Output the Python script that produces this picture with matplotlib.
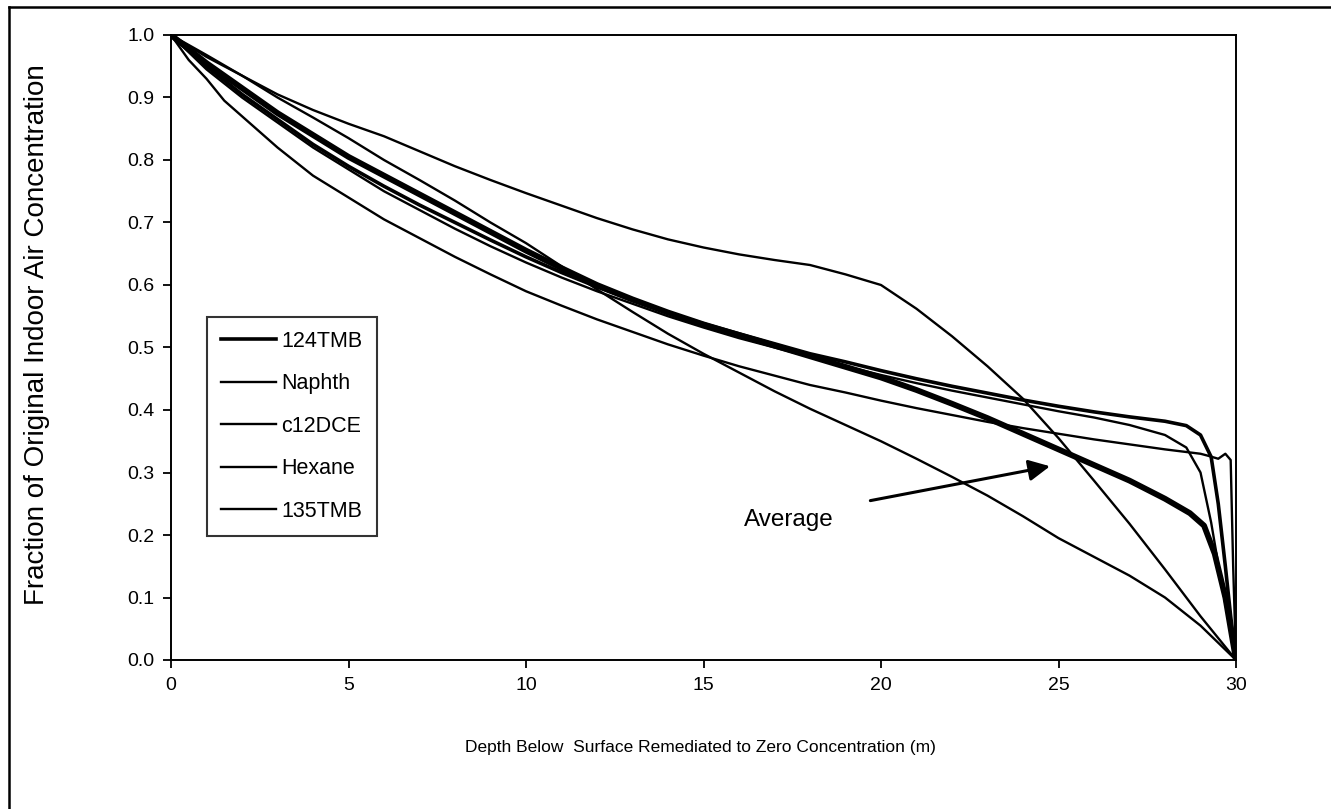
import matplotlib
matplotlib.use("Agg")
import matplotlib.pyplot as plt
from matplotlib.lines import Line2D
from matplotlib.transforms import Bbox

plt.rcParams['font.family'] = ['Liberation Sans', 'DejaVu Sans']

# ---- data ----
avg_x = [0, 1, 2, 3, 4, 5, 6, 7, 8, 9, 10, 11, 12, 13, 14, 15, 16, 17, 18, 19, 20,
         21, 22, 23, 24, 25, 26, 27, 28, 28.7, 29.1, 29.4, 29.7, 30]
avg_y = [1.0, 0.955, 0.915, 0.875, 0.84, 0.805, 0.775, 0.745, 0.715, 0.685, 0.655,
         0.627, 0.600, 0.577, 0.556, 0.537, 0.520, 0.503, 0.486, 0.469, 0.452,
         0.432, 0.410, 0.387, 0.362, 0.337, 0.312, 0.287, 0.258, 0.235, 0.215,
         0.17, 0.10, 0.0]

tmb124_x = [0, 1, 2, 3, 4, 5, 6, 7, 8, 9, 10, 11, 12, 13, 14, 15, 16, 17, 18, 19, 20,
            21, 22, 23, 24, 25, 26, 27, 28, 28.6, 29, 29.3, 29.5, 29.7, 29.85, 30]
tmb124_y = [1.0, 0.95, 0.905, 0.865, 0.825, 0.79, 0.758, 0.728, 0.70, 0.672, 0.645,
            0.62, 0.597, 0.575, 0.556, 0.538, 0.522, 0.506, 0.49, 0.477, 0.463,
            0.45, 0.438, 0.427, 0.416, 0.406, 0.397, 0.389, 0.382, 0.375, 0.36,
            0.325, 0.25, 0.15, 0.07, 0.0]

naphth_x = [0, 1, 2, 3, 4, 5, 6, 7, 8, 9, 10, 11, 12, 13, 14, 15, 16, 17, 18, 19, 20,
            21, 22, 23, 24, 25, 26, 27, 28, 29, 30]
naphth_y = [1.0, 0.965, 0.935, 0.905, 0.88, 0.858, 0.838, 0.814, 0.79, 0.768, 0.747,
            0.727, 0.707, 0.689, 0.673, 0.66, 0.649, 0.64, 0.632, 0.617, 0.600,
            0.562, 0.518, 0.47, 0.418, 0.355, 0.287, 0.218, 0.145, 0.07, 0.0]

dce_x = [0, 1, 2, 3, 4, 5, 6, 7, 8, 9, 10, 11, 12, 13, 14, 15, 16, 17, 18, 19, 20,
         21, 22, 23, 24, 25, 26, 27, 28, 29, 30]
dce_y = [1.0, 0.968, 0.935, 0.90, 0.868, 0.835, 0.80, 0.768, 0.735, 0.70, 0.667,
         0.63, 0.593, 0.557, 0.522, 0.49, 0.46, 0.43, 0.402, 0.376, 0.35,
         0.322, 0.293, 0.263, 0.23, 0.195, 0.165, 0.135, 0.10, 0.055, 0.0]

hexane_x = [0, 0.5, 1, 1.5, 2, 3, 4, 5, 6, 7, 8, 9, 10, 11, 12, 13, 14, 15, 16, 17, 18,
            19, 20, 21, 22, 23, 24, 25, 26, 27, 28, 29, 29.2, 29.5, 29.7, 29.85,
            29.92, 30]
hexane_y = [1.0, 0.96, 0.93, 0.895, 0.87, 0.82, 0.775, 0.74, 0.705, 0.675, 0.645,
            0.617, 0.59, 0.567, 0.545, 0.525, 0.505, 0.487, 0.47, 0.455, 0.44,
            0.428, 0.415, 0.403, 0.392, 0.381, 0.371, 0.362, 0.353, 0.345, 0.337,
            0.33, 0.327, 0.322, 0.33, 0.32, 0.15, 0.0]

tmb135_x = [0, 1, 2, 3, 4, 5, 6, 7, 8, 9, 10, 11, 12, 13, 14, 15, 16, 17, 18, 19, 20,
            21, 22, 23, 24, 25, 26, 27, 28, 28.6, 29.0, 29.3, 29.6, 30]
tmb135_y = [1.0, 0.945, 0.90, 0.86, 0.82, 0.785, 0.75, 0.72, 0.69, 0.662, 0.636,
            0.612, 0.59, 0.57, 0.55, 0.532, 0.515, 0.50, 0.485, 0.47, 0.456,
            0.443, 0.431, 0.42, 0.409, 0.398, 0.388, 0.376, 0.36, 0.34, 0.30,
            0.22, 0.12, 0.0]

series_names = ['124TMB', 'Naphth', 'c12DCE', 'Hexane', '135TMB']
x_ticks = [0, 5, 10, 15, 20, 25, 30]
y_ticks = [0.0, 0.1, 0.2, 0.3, 0.4, 0.5, 0.6, 0.7, 0.8, 0.9, 1.0]

# ---- figure ----
W, H = 1331, 809
fig = plt.figure(figsize=(W / 100, H / 100), dpi=100)
ax = fig.add_axes([171 / W, 1 - 660 / H, (1236 - 171) / W, (660 - 35) / H])

series = [(tmb124_x, tmb124_y, 2.6), (naphth_x, naphth_y, 1.7), (dce_x, dce_y, 1.7),
          (hexane_x, hexane_y, 1.7), (tmb135_x, tmb135_y, 1.7)]
for (xs, ys, lw), name in zip(series, series_names):
    ax.plot(xs, ys, color='black', lw=lw, label=name, solid_joinstyle='round')
ax.plot(avg_x, avg_y, color='black', lw=4.2, solid_joinstyle='round')

ax.set_xlim(0, 30)
ax.set_ylim(0, 1.0)
ax.set_xticks(x_ticks)
ax.set_yticks(y_ticks)
ax.set_yticklabels([f'{v:.1f}' for v in y_ticks])
ax.tick_params(direction='out', length=6, width=1.3, labelsize=14, pad=6)
for s in ax.spines.values():
    s.set_linewidth(1.4)
    s.set_color('black')

ax.set_xlabel('Depth Below  Surface Remediated to Zero Concentration (m)', fontsize=12.5)
ax.xaxis.set_label_coords(0.497, -0.128)

# y label (clipped at the top as in the original)
ylab = fig.text(37 / W, 1 - 605 / H, 'Fraction of Original Indoor Air Concentration',
                rotation=90, ha='center', va='bottom', fontsize=20)
ylab.set_clip_box(Bbox.from_extents(0, 0, W, H - 54))
ylab.set_clip_on(True)

leg = ax.legend(loc='upper left', bbox_to_anchor=(0.034, 0.549), frameon=True,
                fancybox=False, edgecolor='black', fontsize=15.5, handlelength=2.55,
                handletextpad=0.25, labelspacing=1.0, borderpad=0.65, borderaxespad=0)
leg.get_frame().set_linewidth(1.5)

ax.annotate('', xy=(24.76, 0.31), xytext=(19.7, 0.255),
            arrowprops=dict(arrowstyle='-|>', color='black', lw=2.2, mutation_scale=32,
                            shrinkA=0, shrinkB=0))
ax.text(17.4, 0.224, 'Average', ha='center', va='center', fontsize=17.5)

# outer chart-area frame (top and left visible)
fig.add_artist(Line2D([9 / W, 1.0], [1 - 7 / H, 1 - 7 / H], color='black', lw=1.8))
fig.add_artist(Line2D([9 / W, 9 / W], [0.0, 1 - 7 / H], color='black', lw=1.8))

fig.savefig('out.png', dpi=100, facecolor='white')
